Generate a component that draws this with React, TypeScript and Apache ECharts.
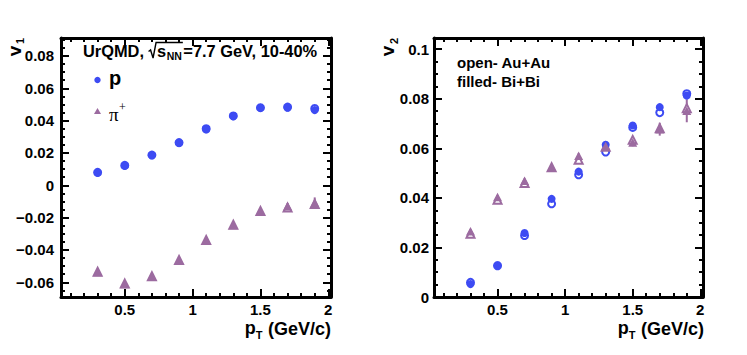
import React, { useEffect, useRef } from "react";
import * as echarts from "echarts";

// ---------------- data ----------------
const PT = [0.3, 0.5, 0.7, 0.9, 1.1, 1.3, 1.5, 1.7, 1.9];

// v1 (left panel)
const V1_P_AUAU = [0.008, 0.0123, 0.0187, 0.0264, 0.035, 0.0429, 0.048, 0.0484, 0.0475];
const V1_P_BIBI = [0.0078, 0.012, 0.0186, 0.0262, 0.0345, 0.0427, 0.0479, 0.048, 0.0465];
const V1_PI_AUAU = [-0.0535, -0.0608, -0.0562, -0.0462, -0.0338, -0.0244, -0.0159, -0.0138, -0.0115];
const V1_PI_BIBI = [-0.0537, -0.0611, -0.0565, -0.0464, -0.034, -0.0246, -0.0161, -0.013, -0.011];
const V1_P_ERR = [0.0004, 0.0004, 0.0004, 0.0004, 0.0005, 0.0005, 0.0006, 0.0007, 0.0009];
const V1_PI_ERR = [0.0005, 0.0005, 0.0005, 0.0006, 0.0007, 0.0008, 0.0012, 0.002, 0.0035];

// v2 (right panel)
const V2_P_AUAU = [0.0059, 0.0126, 0.0248, 0.0376, 0.0493, 0.0585, 0.0684, 0.0744, 0.082];
const V2_P_BIBI = [0.0052, 0.0128, 0.0258, 0.0396, 0.0506, 0.0614, 0.0692, 0.0766, 0.0813];
const V2_PI_AUAU = [0.0255, 0.0392, 0.046, 0.0524, 0.0554, 0.0606, 0.0634, 0.0681, 0.0762];
const V2_PI_BIBI = [0.0265, 0.0403, 0.0469, 0.0524, 0.057, 0.0609, 0.0623, 0.0677, 0.0751];
const V2_P_ERR = [0.0005, 0.0005, 0.0006, 0.0006, 0.0007, 0.0008, 0.001, 0.0012, 0.0016];
const V2_PI_ERR = [0.0006, 0.0007, 0.0008, 0.0009, 0.001, 0.0012, 0.0015, 0.0026, 0.0046];

// ticks
const X_TICKS = [0.5, 1, 1.5, 2];
const X_TICK_LABELS = ["0.5", "1", "1.5", "2"];
const V1_TICKS = [-0.06, -0.04, -0.02, 0, 0.02, 0.04, 0.06, 0.08];
const V1_TICK_LABELS = ["\u22120.06", "\u22120.04", "\u22120.02", "0", "0.02", "0.04", "0.06", "0.08"];
const V2_TICKS = [0, 0.02, 0.04, 0.06, 0.08, 0.1];
const V2_TICK_LABELS = ["0", "0.02", "0.04", "0.06", "0.08", "0.1"];

const X_MIN = 0.03;
const X_MAX = 2.02;
const V1_MIN = -0.0691;
const V1_MAX = 0.0911;
const V2_MIN = 0;
const V2_MAX = 0.1045;

// ---------------- style ----------------
const BLUE = "#3d4bf3";
const PURPLE = "#9c6ba0";
const FONT = "'Liberation Sans', Arial, Helvetica, sans-serif";
const SERIF = "'Liberation Serif', 'Times New Roman', serif";

function minorTicks(lo: number, hi: number, step: number, majors: number[]) {
  const out: number[] = [];
  const k0 = Math.ceil(lo / step - 1e-9);
  const k1 = Math.floor(hi / step + 1e-9);
  for (let k = k0; k <= k1; k++) {
    const v = Number((k * step).toFixed(4));
    if (!majors.some((m) => Math.abs(m - v) < 1e-9)) out.push(v);
  }
  return out;
}

let measureCtx: CanvasRenderingContext2D | null = null;
function tw(s: string, size: number, bold = true, family = FONT) {
  if (!measureCtx) measureCtx = document.createElement("canvas").getContext("2d");
  measureCtx!.font = `${bold ? "bold " : ""}${size}px ${family}`;
  return measureCtx!.measureText(s).width;
}

function label(x: number, y: number, text: string, size: number, opts: any = {}) {
  const align = opts.align || "left";
  const va = opts.va || "middle";
  return {
    type: "text",
    x,
    y,
    rotation: opts.rotation || 0,
    silent: true,
    z: 100,
    style: {
      text,
      fontSize: size,
      fontWeight: opts.bold === false ? "normal" : "bold",
      fontFamily: opts.family || FONT,
      fill: opts.color || "#000",
      align,
      verticalAlign: va,
      textAlign: align,
      textVerticalAlign: va,
    },
  };
}

function makeAxes(dir: "x" | "y", gridIndex: number, min: number, max: number, majors: number[], minors: number[], labels: string[], labelMargin: number) {
  const isX = dir === "x";
  const base: any = {
    type: "value",
    gridIndex,
    min,
    max,
    splitLine: { show: false },
    minorTick: { show: false },
    minorSplitLine: { show: false },
    silent: true,
  };
  const line = { show: true, onZero: false, lineStyle: { color: "#000", width: 3 } };
  const noLine = { show: false, onZero: false };
  const major = { show: true, inside: true, length: 8, lineStyle: { color: "#000", width: 2 }, customValues: majors };
  const minor = { show: true, inside: true, length: 4, lineStyle: { color: "#000", width: 2 }, customValues: minors };
  const pos1 = isX ? "bottom" : "left";
  const pos2 = isX ? "top" : "right";
  return [
    {
      ...base,
      position: pos1,
      axisLine: line,
      axisTick: major,
      axisLabel: {
        show: true,
        customValues: majors,
        margin: labelMargin,
        color: "#000",
        fontSize: 15,
        fontWeight: "bold",
        fontFamily: FONT,
        formatter: (v: number) => {
          const i = majors.findIndex((m) => Math.abs(m - v) < 1e-9);
          return i >= 0 ? labels[i] : "";
        },
      },
    },
    { ...base, position: pos1, axisLine: noLine, axisTick: minor, axisLabel: { show: false } },
    { ...base, position: pos2, axisLine: line, axisTick: major, axisLabel: { show: false } },
    { ...base, position: pos2, axisLine: noLine, axisTick: minor, axisLabel: { show: false } },
  ];
}

function errSeries(xi: number, yi: number, vals: number[], errs: number[], color: string) {
  return {
    type: "custom",
    xAxisIndex: xi,
    yAxisIndex: yi,
    silent: true,
    z: 1,
    data: PT.map((x, i) => [x, vals[i], errs[i]]),
    renderItem: (_p: any, api: any) => {
      const x = api.value(0);
      const y = api.value(1);
      const e = api.value(2);
      const a = api.coord([x, y - e]);
      const b = api.coord([x, y + e]);
      return {
        type: "line",
        shape: { x1: a[0], y1: a[1], x2: b[0], y2: b[1] },
        style: { stroke: color, lineWidth: 2 },
      };
    },
  };
}

function scatter(xi: number, yi: number, vals: number[], color: string, kind: "circle" | "triangle", open: boolean) {
  const symbol = open ? (kind === "circle" ? "emptyCircle" : "emptyTriangle") : kind;
  const size = kind === "circle" ? (open ? 7 : 8) : open ? [8, 8] : [9, 8.5];
  return {
    type: "scatter",
    xAxisIndex: xi,
    yAxisIndex: yi,
    silent: true,
    z: 2,
    symbol,
    symbolSize: size,
    data: PT.map((x, i) => [x, vals[i]]),
    itemStyle: open ? { color, borderColor: color, borderWidth: 1.5, opacity: 1 } : { color, opacity: 1 },
  };
}

function titleGraphics() {
  const els: any[] = [];
  // left panel header: UrQMD, sqrt(s_NN)=7.7 GeV, 10-40%
  const fs = 16.4;
  const y = 51;
  let x = 83;
  const s1 = "UrQMD, ";
  els.push(label(x, y, s1, fs));
  x += tw(s1, fs);
  const rx = x;
  const sx = rx + 8.5;
  const nnx = sx + tw("s", fs) + 0.5;
  const endNN = nnx + tw("NN", 10.5);
  els.push(label(sx, y, "s", fs));
  els.push(label(nnx, y + 5, "NN", 10.5));
  els.push({
    type: "polyline",
    silent: true,
    z: 100,
    shape: {
      points: [
        [rx, 51.5],
        [rx + 2, 50],
        [rx + 4.5, 58],
        [rx + 7.5, 42.5],
        [endNN + 1, 42.5],
      ],
    },
    style: { stroke: "#000", lineWidth: 1.4, fill: null },
  });
  els.push(label(endNN + 1.5, y, "=7.7 GeV, 10-40%", fs));

  // legend (left panel)
  els.push({ type: "circle", silent: true, z: 100, shape: { cx: 97.5, cy: 80, r: 3.2 }, style: { fill: BLUE } });
  els.push(label(109, 78, "p", 20));
  els.push({
    type: "polygon",
    silent: true,
    z: 100,
    shape: { points: [[94, 114], [101, 114], [97.5, 108]] },
    style: { fill: PURPLE },
  });
  els.push(label(109, 114, "\u03c0", 19, { bold: false, family: SERIF }));
  els.push(label(109 + tw("\u03c0", 19, false, SERIF) + 0.5, 107, "+", 12, { bold: false, family: SERIF }));

  // right panel header
  els.push(label(457, 62, "open- Au+Au", 15));
  els.push(label(457, 81, "filled- Bi+Bi", 15));

  // y axis titles (rotated)
  els.push(label(14, 51, "v", 19, { align: "center", rotation: Math.PI / 2 }));
  els.push(label(20, 41, "1", 11, { align: "center", rotation: Math.PI / 2 }));
  els.push(label(387.5, 51, "v", 19, { align: "center", rotation: Math.PI / 2 }));
  els.push(label(394, 41, "2", 11, { align: "center", rotation: Math.PI / 2 }));

  // x axis titles
  for (const xEnd of [331, 704]) {
    const paren = " (GeV/c)";
    const wParen = tw(paren, 18);
    const wT = tw("T", 11);
    const wp = tw("p", 18);
    const px = xEnd - wParen;
    els.push(label(px, 329, paren, 18));
    els.push(label(px - wT - 0.5, 335, "T", 11));
    els.push(label(px - wT - 0.5 - wp, 328, "p", 18));
  }
  return els;
}

function buildOption() {
  const xMinor = minorTicks(X_MIN, X_MAX, 0.1, X_TICKS);
  const v1Minor = minorTicks(V1_MIN, V1_MAX, 0.005, V1_TICKS);
  const v2Minor = minorTicks(V2_MIN, V2_MAX, 0.005, V2_TICKS);

  const xAxis = [
    ...makeAxes("x", 0, X_MIN, X_MAX, X_TICKS, xMinor, X_TICK_LABELS, 5),
    ...makeAxes("x", 1, X_MIN, X_MAX, X_TICKS, xMinor, X_TICK_LABELS, 5),
  ];
  const yAxis = [
    ...makeAxes("y", 0, V1_MIN, V1_MAX, V1_TICKS, v1Minor, V1_TICK_LABELS, 7),
    ...makeAxes("y", 1, V2_MIN, V2_MAX, V2_TICKS, v2Minor, V2_TICK_LABELS, 5),
  ];

  const series: any[] = [
    // left: v1
    errSeries(0, 0, V1_P_AUAU, V1_P_ERR, BLUE),
    errSeries(0, 0, V1_PI_BIBI, V1_PI_ERR, PURPLE),
    scatter(0, 0, V1_P_AUAU, BLUE, "circle", true),
    scatter(0, 0, V1_PI_AUAU, PURPLE, "triangle", true),
    scatter(0, 0, V1_P_BIBI, BLUE, "circle", false),
    scatter(0, 0, V1_PI_BIBI, PURPLE, "triangle", false),
    // right: v2
    errSeries(4, 4, V2_P_BIBI, V2_P_ERR, BLUE),
    errSeries(4, 4, V2_PI_BIBI, V2_PI_ERR, PURPLE),
    scatter(4, 4, V2_P_AUAU, BLUE, "circle", true),
    scatter(4, 4, V2_PI_AUAU, PURPLE, "triangle", true),
    scatter(4, 4, V2_P_BIBI, BLUE, "circle", false),
    scatter(4, 4, V2_PI_BIBI, PURPLE, "triangle", false),
  ];

  return {
    animation: false,
    backgroundColor: "#fff",
    grid: [
      { left: 61, top: 38, width: 270, height: 259, containLabel: false },
      { left: 434, top: 38, width: 269, height: 259, containLabel: false },
    ],
    xAxis,
    yAxis,
    series,
    graphic: { elements: titleGraphics() },
  };
}

export default function App() {
  const ref = useRef<HTMLDivElement>(null);
  useEffect(() => {
    const chart = echarts.init(ref.current!, null, { renderer: "svg" });
    chart.setOption(buildOption() as any);
    return () => chart.dispose();
  }, []);
  return (
    <div
      ref={ref}
      style={{ position: "fixed", left: 0, top: 0, width: 747, height: 355, background: "#fff" }}
    />
  );
}
